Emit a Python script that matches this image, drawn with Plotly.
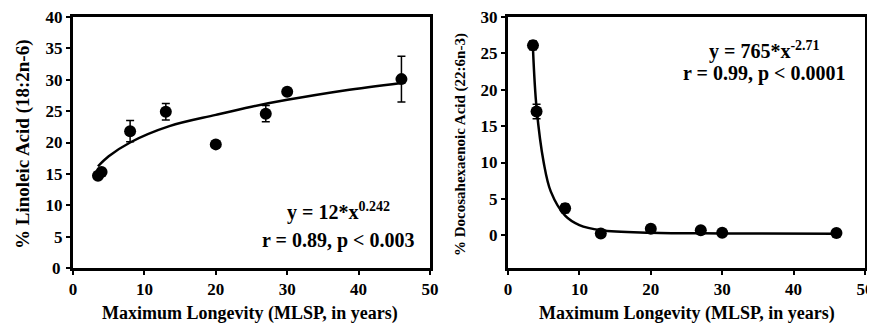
import plotly.graph_objects as go

# ---- data ----
mlsp = [3.5, 4, 8, 13, 20, 27, 30, 46]

la_vals = [14.7, 15.3, 21.8, 24.9, 19.7, 24.6, 28.1, 30.1]
la_err = [0.4, 0.5, 1.7, 1.3, 0.3, 1.3, 0.3, 3.65]

dha_vals = [26.1, 17.0, 3.7, 0.23, 0.9, 0.7, 0.35, 0.3]
dha_err = [0.6, 1.0, 0.6, 0.1, 0.1, 0.1, 0.1, 0.1]

# fitted curves
la_fit_x = [3.5, 5, 8, 13.5, 20, 25, 30, 38, 46]
la_fit_y = [16.2, 17.8, 20.0, 22.6, 24.4, 25.7, 26.8, 28.3, 29.5]

dha_fit_x = [3.5, 4, 5, 6, 8, 10, 13, 20, 30, 46]
dha_fit_y = [25.6, 17.5, 10.0, 6.0, 2.7, 1.4, 0.7, 0.35, 0.25, 0.2]

x_ticks = [0, 10, 20, 30, 40, 50]
la_ticks = [0, 5, 10, 15, 20, 25, 30, 35, 40]
dha_ticks = [0, 5, 10, 15, 20, 25, 30]

la_title = "% Linoleic Acid (18:2n-6)"
dha_title = "% Docosahexaenoic Acid (22:6n-3)"
x_title = "Maximum Longevity (MLSP, in years)"
la_eq = "y = 12*x<sup>0.242</sup>"
la_stat = "r = 0.89, p < 0.003"
dha_eq = "y = 765*x<sup>-2.71</sup>"
dha_stat = "r = 0.99, p < 0.0001"

PAGE_W, PAGE_H = 875, 324
OFF = 8  # default page body margin
W, H = PAGE_W - OFF, PAGE_H - OFF
FONT = "Liberation Serif"


def px_x(p):
    return (p - OFF) / W


def px_y(p):
    return 1 - (p - OFF) / H


fig = go.Figure()

marker = dict(size=12, color="black", symbol="circle")
err_style = dict(type="data", visible=True, thickness=1.5, width=4, color="black")

fig.add_trace(go.Scatter(x=la_fit_x, y=la_fit_y, mode="lines", line=dict(color="black", width=2.5, shape="spline"),
                         xaxis="x", yaxis="y", hoverinfo="skip"))
fig.add_trace(go.Scatter(x=mlsp, y=la_vals, mode="markers", marker=marker,
                         error_y=dict(array=la_err, **err_style), xaxis="x", yaxis="y"))
fig.add_trace(go.Scatter(x=dha_fit_x, y=dha_fit_y, mode="lines", line=dict(color="black", width=2.5, shape="spline"),
                         xaxis="x2", yaxis="y2", hoverinfo="skip"))
fig.add_trace(go.Scatter(x=mlsp, y=dha_vals, mode="markers", marker=marker,
                         error_y=dict(array=dha_err, **err_style), xaxis="x2", yaxis="y2"))

tickfont = dict(family=FONT, size=17, color="black", weight="bold")
common_axis = dict(showline=True, mirror=True, linewidth=3, linecolor="black", showgrid=False,
                   zeroline=False, ticks="outside", ticklen=4, tickwidth=2, tickcolor="black",
                   tickfont=tickfont, automargin=False, ticklabeloverflow="allow")

ydom = [px_y(268), px_y(17)]

fig.update_layout(
    width=W, height=H,
    margin=dict(l=0, r=0, t=0, b=0),
    paper_bgcolor="white", plot_bgcolor="white",
    showlegend=False,
    font=dict(family=FONT, color="black", weight="bold"),
    xaxis=dict(domain=[px_x(73), px_x(430)], range=[0, 50], tickmode="array", tickvals=x_ticks,
               anchor="y", **common_axis),
    # the corner label "0" of this axis is written as a y-anchored annotation below
    yaxis=dict(domain=ydom, range=[0, 40], tickmode="array", tickvals=la_ticks,
               ticktext=[""] + [str(v) for v in la_ticks[1:]], anchor="x", **common_axis),
    xaxis2=dict(domain=[px_x(508), px_x(865)], range=[0, 50], tickmode="array", tickvals=x_ticks,
                anchor="y2", **common_axis),
    yaxis2=dict(domain=ydom, range=[-4.5, 30], tickmode="array", tickvals=dha_ticks, anchor="x2", **common_axis),
)

ann_font = dict(family=FONT, size=20, color="black", weight="bold")


def ann(text, x, y, size=None, angle=0, font=None):
    return dict(text=text, x=px_x(x), y=px_y(y), xref="paper", yref="paper", textangle=angle,
                xanchor="center", yanchor="middle", showarrow=False,
                font=font or dict(family=FONT, size=size, color="black", weight="bold"))


annotations = [
    ann(la_title, 23, 144, size=19, angle=-90),
    ann(x_title, 250, 313, size=18),
    ann(dha_title, 460, 144, size=15, angle=-90),
    ann(x_title, 687, 313, size=18),
    ann(la_eq, 338, 211, font=ann_font),
    ann(la_stat, 338, 240, font=ann_font),
    ann(dha_eq, 764, 50, font=ann_font),
    ann(dha_stat, 764, 73, font=ann_font),
    # y tick label "0" of the left axis, placed on the axis' own value scale
    dict(text=str(la_ticks[0]), x=px_x(63), y=la_ticks[0], xref="paper", yref="y",
         xanchor="right", yanchor="middle", showarrow=False, font=tickfont),
]
fig.update_layout(annotations=annotations)

fig.write_html("out.html")
